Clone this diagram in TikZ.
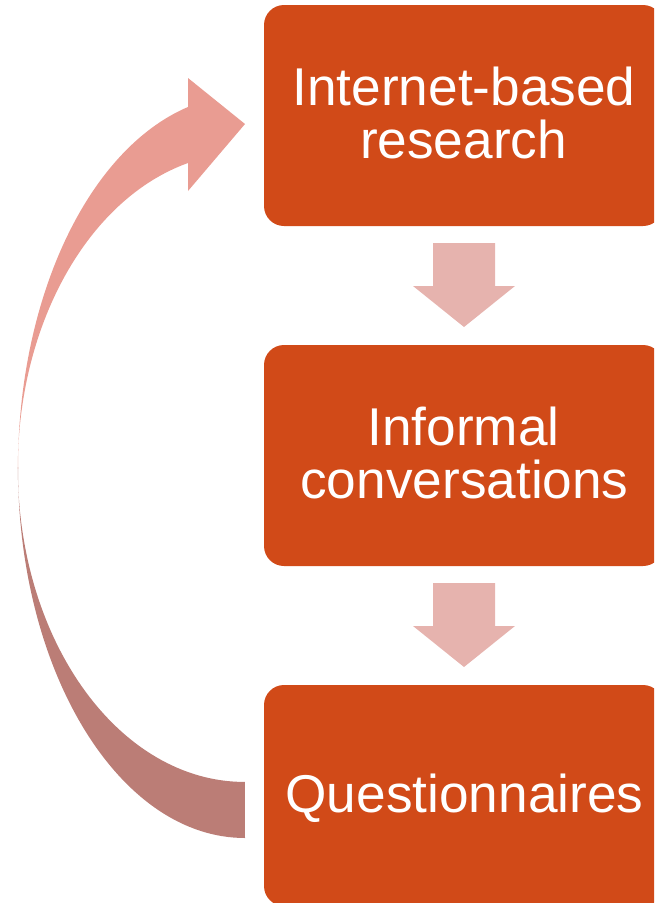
\documentclass[tikz,border=0pt]{standalone}
\usepackage{fontspec}
\setmainfont{Liberation Sans}
\definecolor{boxfill}{HTML}{D14A18}
\definecolor{downarr}{HTML}{E6B3AE}
\definecolor{curvetop}{HTML}{E99C92}
\definecolor{curvebot}{HTML}{BB7D76}
\tikzset{
  stagebox/.style={fill=boxfill, draw=none, rounded corners=20pt, minimum width=399pt, minimum height=221pt, inner sep=0pt, outer sep=0pt},
  lbl/.style={text=white, font=\fontsize{53.2}{54}\selectfont, inner sep=0pt, anchor=base},
  downfill/.style={fill=downarr, draw=none}
}
\begin{document}
\begin{tikzpicture}[x=1pt, y=-1pt]
\useasboundingbox (0,0) rectangle (654,903);
\begin{scope}
\clip (0,0) rectangle (654,903);
% boxes
\node[stagebox] (b1) at (463.5,115.5) {};
\node[stagebox] (b2) at (463.5,455.5) {};
\node[stagebox] (b3) at (463.5,795.5) {};
\end{scope}
% labels
\node[lbl] (t1a) at (464,105) {Internet-based};
\node[lbl] (t1b) at (463.5,158) {research};
\node[lbl] (t2a) at (463.5,445) {Informal};
\node[lbl] (t2b) at (464.5,498) {conversations};
\node[lbl] (t3) at (464.5,812) {Questionnaires};
% down arrows
\foreach \dy in {0,340}{
  \fill[downfill] (433,243+\dy) -- (495,243+\dy) -- (495,286+\dy) -- (515,286+\dy)
    -- (464,327+\dy) -- (413,286+\dy) -- (433,286+\dy) -- cycle;
}
% curved return arrow
\def\curvepath{(245,838) arc[start angle=90, end angle=180, x radius=227, y radius=370]
  arc[start angle=180, end angle=255.5, x radius=227, y radius=373]
  -- (188,78) -- (245,124) -- (188,191) -- (188,163)
  arc[start angle=255.5, end angle=180, x radius=227, y radius=315]
  arc[start angle=180, end angle=90, x radius=227, y radius=314] -- cycle}
\begin{scope}
\clip (0,0) rectangle (260,468);
\fill[curvetop] \curvepath;
\end{scope}
\begin{scope}
\clip (0,467.5) rectangle (260,903);
\fill[curvebot] \curvepath;
\end{scope}
\end{tikzpicture}
\end{document}
